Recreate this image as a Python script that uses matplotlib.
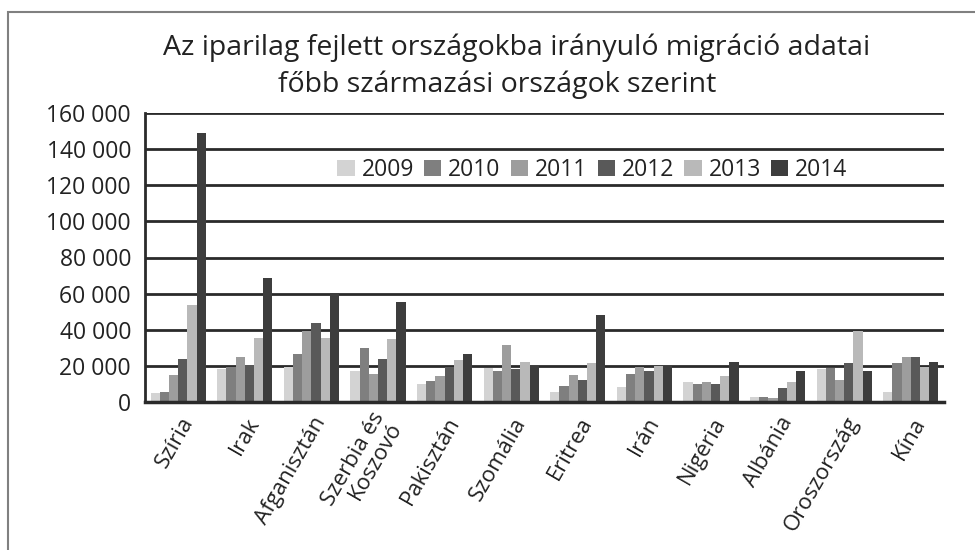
import numpy as np
import matplotlib.pyplot as plt
from matplotlib.lines import Line2D
import matplotlib.transforms as mtransforms

plt.rcParams['font.family'] = ['Open Sans', 'DejaVu Sans']

countries = ["Szíria", "Irak", "Afganisztán", "Szerbia és\nKoszovó", "Pakisztán",
             "Szomália", "Eritrea", "Irán", "Nigéria", "Albánia", "Oroszország", "Kína"]
years = ["2009", "2010", "2011", "2012", "2013", "2014"]
colors = ["#d3d3d3", "#7f7f7f", "#9d9d9d", "#595959", "#b9b9b9", "#3d3d3d"]

v2009 = [5000, 18300, 19400, 17200, 9800, 19100, 5400, 8200, 10900, 2600, 18100, 5400]
v2010 = [5500, 19500, 26500, 29800, 11500, 17000, 8700, 15400, 9800, 2600, 18700, 21500]
v2011 = [14800, 24800, 39300, 15400, 14300, 31500, 14800, 19300, 10900, 2000, 12000, 24800]
v2012 = [23700, 20400, 43900, 23700, 19400, 18100, 12000, 17000, 9800, 7600, 21500, 24800]
v2013 = [53700, 35500, 35500, 34800, 23200, 22000, 21500, 19700, 14300, 10900, 39300, 19300]
v2014 = [148700, 68700, 60200, 55400, 26500, 20000, 48100, 20000, 22000, 17000, 17000, 22000]
series = [v2009, v2010, v2011, v2012, v2013, v2014]

fig = plt.figure(figsize=(9.75, 5.5), dpi=100)
ax = fig.add_axes([145 / 975, 148 / 550, 799 / 975, 289 / 550])

x = np.arange(len(countries))
w = 0.138
for i, (vals, c) in enumerate(zip(series, colors)):
    ax.bar(x + (i - 2.5) * w, vals, width=w, color=c, label=years[i], zorder=3)

ax.set_xlim(-0.5, len(countries) - 0.5)
ax.set_ylim(0, 160000)
ax.set_yticks(np.arange(0, 160001, 20000))
ax.set_yticklabels([f"{v:,}".replace(",", " ") for v in range(0, 160001, 20000)],
                   fontsize=16.5, color="#222222")
ax.set_xticks(x)
ax.set_xticklabels(countries, rotation=60, ha="right", va="center", rotation_mode="anchor",
                   fontsize=16, color="#222222", linespacing=0.95)
ax.tick_params(axis="y", length=0, pad=10)
ax.tick_params(axis="x", length=0, pad=12)
shift = mtransforms.ScaledTranslation(10 / 100, 0, fig.dpi_scale_trans)
for lab in ax.get_xticklabels():
    lab.set_transform(lab.get_transform() + shift)

ax.grid(axis="y", color="#2a2a2a", linewidth=2, zorder=1)
for s in ["top", "right"]:
    ax.spines[s].set_visible(False)
ax.spines["left"].set_color("#2a2a2a")
ax.spines["left"].set_linewidth(2)
ax.spines["bottom"].set_color("#2a2a2a")
ax.spines["bottom"].set_linewidth(2.5)
ax.spines["bottom"].set_zorder(4)

leg = ax.legend(loc="center", bbox_to_anchor=(0.56, 0.803), ncol=6, frameon=False,
                fontsize=16.5, handlelength=0.75, handleheight=0.75, handletextpad=0.3,
                columnspacing=0.45, borderaxespad=0, borderpad=0)
for t in leg.get_texts():
    t.set_color("#222222")

fig.text(517 / 975, 1 - 48 / 550, "Az iparilag fejlett országokba irányuló migráció adatai",
         ha="center", va="center", fontsize=20.5, color="#222222")
fig.text(497 / 975, 1 - 85 / 550, "főbb származási országok szerint",
         ha="center", va="center", fontsize=20.5, color="#222222")

# outer frame (left and top edges)
frame = Line2D([8 / 975, 8 / 975, 1.0], [0, 1 - 12 / 550, 1 - 12 / 550],
               transform=fig.transFigure, color="#808080", linewidth=1.5,
               solid_joinstyle="miter", zorder=10)
fig.add_artist(frame)

fig.savefig("out.png", dpi=100)
